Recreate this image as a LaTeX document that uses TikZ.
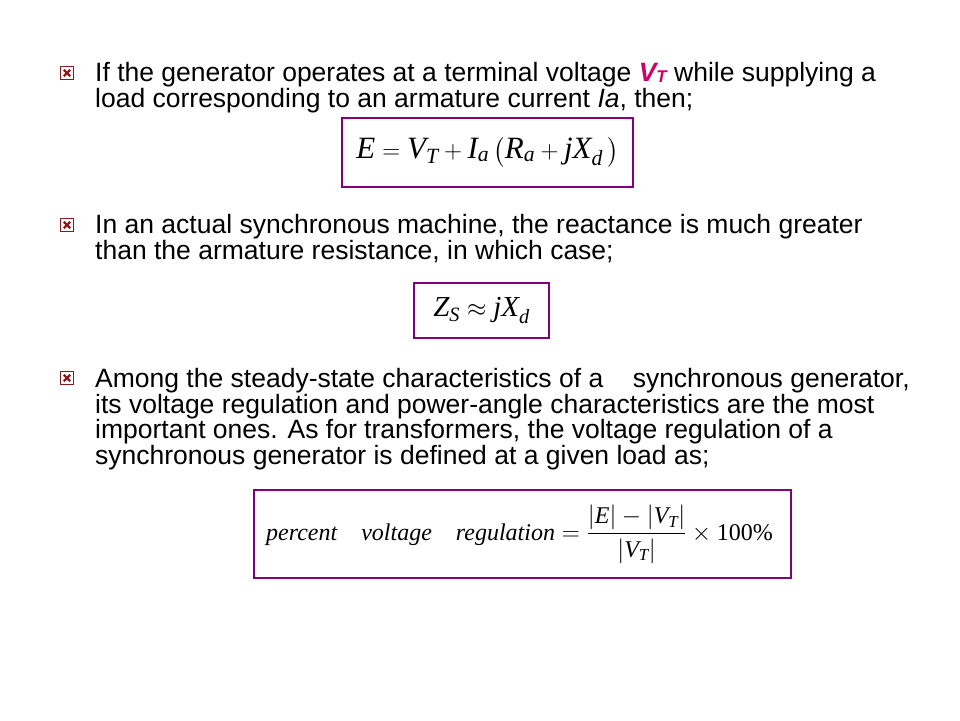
\documentclass[tikz,border=0pt]{standalone}
\usepackage{amsmath}
\usepackage{fontspec}
\setmainfont{Liberation Sans}
\newfontfamily\serifrm{Liberation Serif}
\newcommand{\mv}[1]{\text{\serifrm\itshape #1}}
\newcommand{\mr}[1]{\text{\serifrm #1}}
\definecolor{boxpurple}{HTML}{800080}
\definecolor{vtcol}{HTML}{CC0066}
\definecolor{bulred}{HTML}{8B1A1A}
\begin{document}
\begin{tikzpicture}[x=1pt,y=-1pt,
  bodytext/.style={anchor=north west,inner sep=0pt,align=left,font=\fontsize{26.5}{24.4}\selectfont},
  eqbox/.style={draw=boxpurple,line width=2.6pt,fill=white},
  eqtext/.style={inner sep=0pt}]
\useasboundingbox[fill=white] (0,0) rectangle (960,720);
\tikzset{bul/.pic={
  \draw[bulred,line width=1pt] (-6.2,-6.2) rectangle (6.2,6.2);
  \draw[bulred,line width=2.4pt] (-3.2,-3.2) -- (3.2,3.2) (-3.2,3.2) -- (3.2,-3.2);
}}
% bullets
\pic at (67,73) {bul};
\pic at (67,225) {bul};
\pic at (67,378) {bul};
% paragraphs
\node[bodytext] (p1) at (95,62) {If the generator operates at a terminal voltage \textcolor{vtcol}{\textbf{\textit{V\raisebox{-0.05em}{\fontsize{17}{17}\selectfont T}}}} while supplying a\\load corresponding to an armature current \textit{Ia}, then;};
\node[bodytext] (p2) at (95,214) {In an actual synchronous machine, the reactance is much greater\\than the armature resistance, in which case;};
\node[bodytext] (p3) at (95,368) {Among the steady-state characteristics of a \ \ \ synchronous generator,\\its voltage regulation and power-angle characteristics are the most\\important ones. As for transformers, the voltage regulation of a\\synchronous generator is defined at a given load as;};
% equation boxes
\draw[eqbox] (342,118) rectangle (633,187);
\node[eqtext,font=\fontsize{31}{36}\selectfont] (e1) at (487.5,152) {$\mv{E} = \mv{V}_{\mv{T}} + \mv{I}_{\mv{a}}\left(\mv{R}_{\mv{a}} + \mv{jX}_{\mv{d}}\,\right)$};
\draw[eqbox] (414,283) rectangle (549,338);
\node[eqtext,font=\fontsize{29}{34}\selectfont] (e2) at (481.5,310.5) {$\mv{Z}_{\mv{S}} \approx \mv{jX}_{\mv{d}}$};
\draw[eqbox] (254,490) rectangle (791,578);
\node[eqtext,font=\fontsize{24}{30}\selectfont] (e3) at (519.5,534) {$\mv{percent}\quad \mv{voltage}\quad \mv{regulation} = \dfrac{\left|\mv{E}\right| - \left|\mv{V}_{\mv{T}}\right|}{\left|\mv{V}_{\mv{T}}\right|}\times \mr{100\%}$};
\end{tikzpicture}
\end{document}
